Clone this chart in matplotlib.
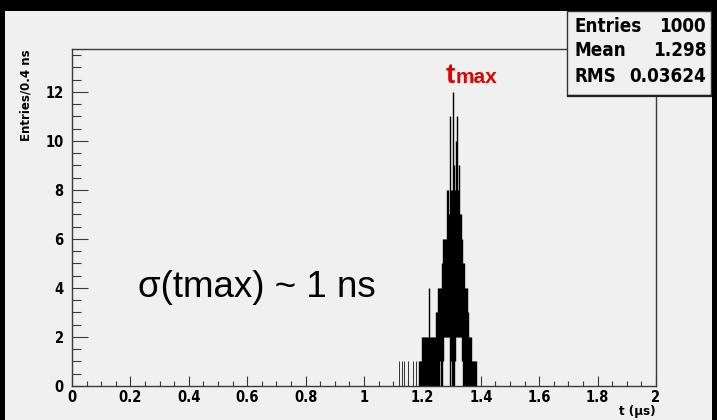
import matplotlib.pyplot as plt
import matplotlib.patches as mpatches
from matplotlib.ticker import MultipleLocator

# Pulse peak time histogram, 0.4 ns bins, drawn ROOT style.
# Bins are far narrower than a screen pixel, so the data is kept as the
# vertical extent of each drawn column (t in us, entries).
col_t = [1.189, 1.193, 1.196, 1.200, 1.203, 1.207, 1.210, 1.213, 1.217, 1.220,
         1.224, 1.227, 1.230, 1.234, 1.237, 1.241, 1.244, 1.248, 1.251, 1.255,
         1.258, 1.261, 1.265, 1.268, 1.272, 1.275, 1.278, 1.282, 1.285, 1.289,
         1.292, 1.296, 1.299, 1.302, 1.306, 1.309, 1.313, 1.316, 1.319, 1.323,
         1.326, 1.330, 1.333, 1.337, 1.340, 1.343, 1.347, 1.350, 1.354, 1.357,
         1.361, 1.364, 1.367, 1.371, 1.374, 1.378, 1.381, 1.385]
col_hi = [1, 1, 1, 2, 2, 2, 2, 2, 2, 2,
          4, 2, 2, 2, 2, 2, 2, 3, 3, 4,
          4, 4, 4, 5, 6, 6, 6, 6, 8, 8,
          7, 11, 8, 8, 12, 9, 8, 10, 11, 8,
          9, 7, 7, 6, 5, 5, 4, 4, 4, 3,
          2, 2, 2, 1, 1, 1, 1, 1]
col_lo = [0, 0, 0, 0, 0, 0, 0, 0, 0, 0,
          0, 0, 0, 0, 0, 0, 0, 0, 0, 0,
          0, 1, 0, 0, 1, 2, 2, 2, 2, 2,
          2, 0, 1, 0, 0, 0, 1, 2, 2, 2,
          2, 2, 2, 1, 0, 0, 0, 0, 0, 0,
          0, 0, 0, 0, 0, 0, 0, 0]

# isolated single entries in the early tail
tail_t = [1.121, 1.131, 1.138, 1.152, 1.169, 1.179]
tail_n = [1, 1, 1, 1, 1, 1]

stats_names = ["Entries", "Mean", "RMS"]
stats_values = ["1000", "1.298", "0.03624"]

bg = "#f0f0f0"
W, H = 717, 420
narrow = dict(family="DejaVu Sans", fontstretch="condensed", fontweight="bold")

fig = plt.figure(figsize=(7.17, 4.20), dpi=100, facecolor=bg)
ax = fig.add_axes([72 / W, (H - 386) / H, (656 - 72) / W, (386 - 49) / H])
ax.set_facecolor(bg)

ax.vlines(col_t, col_lo, col_hi, color="black", linewidth=1.0)
ax.vlines(tail_t, 0, tail_n, color="#333333", linewidth=0.7)

ax.set_xlim(0, 2)
ax.set_ylim(0, 13.75)
ax.xaxis.set_major_locator(MultipleLocator(0.2))
ax.xaxis.set_minor_locator(MultipleLocator(0.05))
ax.yaxis.set_major_locator(MultipleLocator(2))
ax.yaxis.set_minor_locator(MultipleLocator(0.5))
ax.set_xticks([0, 0.2, 0.4, 0.6, 0.8, 1, 1.2, 1.4, 1.6, 1.8, 2],
              ["0", "0.2", "0.4", "0.6", "0.8", "1", "1.2", "1.4", "1.6", "1.8", "2"])

for s in ax.spines.values():
    s.set_color("#3a3a3a")
    s.set_linewidth(1.0)

ax.tick_params(axis="both", which="both", direction="in", colors="#3a3a3a",
               width=0.8)
ax.tick_params(axis="x", which="major", length=7.5, pad=3)
ax.tick_params(axis="x", which="minor", length=3.8)
ax.tick_params(axis="y", which="major", length=11.5, pad=6)
ax.tick_params(axis="y", which="minor", length=6.5)
for lab in ax.get_xticklabels() + ax.get_yticklabels():
    lab.set(**narrow)
    lab.set_fontsize(10.5)
    lab.set_color("black")

ax.set_ylabel("Entries/0.4 ns", fontsize=8.5, fontweight="bold")
ax.yaxis.set_label_coords(-0.079, 0.864)
ax.yaxis.label.set_va("center")
ax.set_xlabel("t (\u00b5s)", fontsize=9.5, **narrow)
ax.xaxis.set_label_coords(1.0, -(412 - 386) / 337)
ax.xaxis.label.set_ha("right")
ax.xaxis.label.set_va("center")

# peak marker and resolution note
ax.text(1.279, 12.37, "t", color="#e00000", fontsize=20, fontweight="bold",
        family="Liberation Sans", va="baseline", ha="left")
ax.text(1.313, 12.37, "max", color="#e00000", fontsize=15, fontweight="bold",
        family="Liberation Sans", va="baseline", ha="left")
ax.text(0.225, 4.0, "\u03c3(tmax) ~ 1 ns", fontsize=26.5, family="Liberation Sans",
        va="center", ha="left")

# statistics box in the top right corner
fig.patches.append(mpatches.Rectangle((567 / W, (H - 95) / H), (711 - 567) / W,
                                      (95 - 11) / H, transform=fig.transFigure,
                                      facecolor=bg, edgecolor="#333333",
                                      linewidth=1.0, zorder=5))
fig.lines.append(plt.Line2D([568 / W, 712 / W], [(H - 95.5) / H, (H - 95.5) / H],
                            transform=fig.transFigure, color="#222222",
                            linewidth=1.6, zorder=6))
for i, (name, val) in enumerate(zip(stats_names, stats_values)):
    y = (H - 26 - 25 * i) / H
    fig.text(574 / W, y, name, fontsize=13.5, va="center", ha="left", zorder=7,
             **narrow)
    fig.text(706 / W, y, val, fontsize=13.5, va="center", ha="right", zorder=7,
             **narrow)

# dark window border along the top and both sides
fig.patches.append(mpatches.Rectangle((0, (H - 11) / H), 1, 11 / H,
                                      transform=fig.transFigure,
                                      facecolor="black", zorder=8))
fig.patches.append(mpatches.Rectangle((0, 0), 4.5 / W, 1,
                                      transform=fig.transFigure,
                                      facecolor="black", zorder=8))
fig.patches.append(mpatches.Rectangle((712 / W, 0), 5 / W, 1,
                                      transform=fig.transFigure,
                                      facecolor="black", zorder=8))

fig.savefig("out.png", dpi=100, facecolor=bg)
